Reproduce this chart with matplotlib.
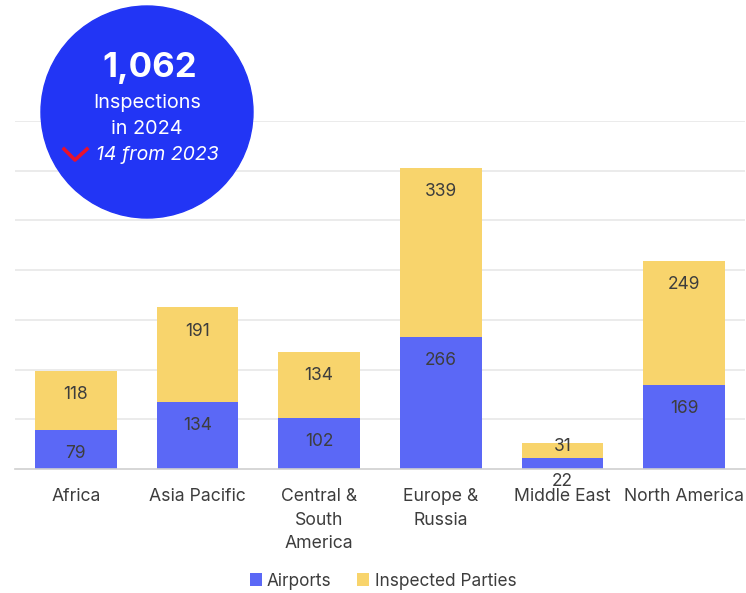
import matplotlib.pyplot as plt
from matplotlib.patches import Ellipse
import numpy as np

plt.rcParams['font.family'] = ['Inter', 'DejaVu Sans']

regions = ['Africa', 'Asia Pacific', 'Central &\nSouth\nAmerica', 'Europe &\nRussia',
           'Middle East', 'North America']
airports = [79, 134, 102, 266, 22, 169]
parties = [118, 191, 134, 339, 31, 249]
total = 1062
change = 14

blue = '#5b68f6'
yellow = '#f8d46c'
txt = '#3d3d3d'

W, H = 746, 593
fig = plt.figure(figsize=(W / 100, H / 100), dpi=100)
ax = fig.add_axes([15 / W, (H - 469) / H, 730 / W, 348 / H])

x = np.arange(len(regions))
ax.bar(x, airports, width=0.67, color=blue, label='Airports', zorder=2)
ax.bar(x, parties, width=0.67, bottom=airports, color=yellow,
       label='Inspected Parties', zorder=2)

# labels sit ~20px below the top of each segment
for i in range(len(regions)):
    a, p = airports[i], parties[i]
    ax.annotate(str(a), (x[i], a), xytext=(0, -17), textcoords='offset points',
                ha='center', va='center', fontsize=12.5, color=txt, zorder=3)
    off = -17 if p > 60 else -3
    ax.annotate(str(p), (x[i], a + p), xytext=(0, off), textcoords='offset points',
                ha='center', va='center', fontsize=12.5, color=txt, zorder=3)

ax.set_xlim(-0.5, 5.5)
ax.set_ylim(0, 700)
ax.set_yticks(range(100, 701, 100))
ax.yaxis.grid(True, color='#e8e8e8', linewidth=1.2, zorder=0)
ax.set_yticklabels([])
ax.tick_params(axis='y', length=0)
ax.tick_params(axis='x', length=0, pad=14)
ax.set_xticks(x)
ax.set_xticklabels(regions, fontsize=12.7, color=txt, va='top', linespacing=1.5)
for s in ['top', 'right', 'left']:
    ax.spines[s].set_visible(False)
ax.spines['bottom'].set_color('#cfcfcf')
ax.spines['bottom'].set_linewidth(1.2)

leg = fig.legend(loc='center', bbox_to_anchor=(383 / W, 1 - 581 / H), ncol=2, frameon=False,
                 fontsize=12.4, handlelength=0.7, handleheight=0.7, handletextpad=0.3,
                 columnspacing=1.5)
for t in leg.get_texts():
    t.set_color(txt)

# badge
cx, cy, r = 147, 112, 106
fig.add_artist(Ellipse((cx / W, 1 - cy / H), 2 * r / W, 2 * r / H,
                       transform=fig.transFigure, color='#2235f5', zorder=5))
fig.text(150 / W, 1 - 68 / H, f'{total:,}', ha='center', va='center', color='white',
         fontsize=25, fontweight='bold', zorder=6)
fig.text(cx / W, 1 - 103 / H, 'Inspections', ha='center', va='center', color='white',
         fontsize=14.3, zorder=6)
fig.text(cx / W, 1 - 129 / H, 'in 2024', ha='center', va='center', color='white',
         fontsize=14.3, zorder=6)
fig.text(157 / W, 1 - 155 / H, f'{change} from 2023', ha='center', va='center', color='white',
         fontsize=14, style='italic', zorder=6)
fig.add_artist(plt.Line2D([64 / W, 75 / W, 87 / W],
                          [1 - 149 / H, 1 - 160 / H, 1 - 149 / H],
                          transform=fig.transFigure, color='#e8112d', linewidth=2.6, zorder=6))

fig.savefig('out.png', dpi=100)
